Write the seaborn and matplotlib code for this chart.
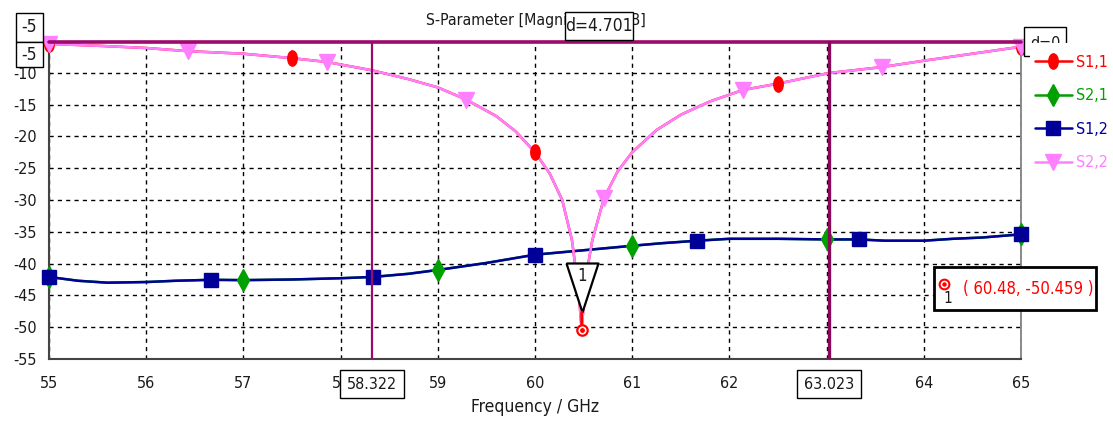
import numpy as np
import pandas as pd
import matplotlib
matplotlib.use("Agg")
import matplotlib.pyplot as plt
from matplotlib.lines import Line2D
from matplotlib.patches import Rectangle
from matplotlib.path import Path
import seaborn as sns

# ---- data -----------------------------------------------------------------
# reflection traces (S1,1 and S2,2 lie on top of each other)
freq_refl = [55.0, 55.5, 56.0, 56.43, 57.0, 57.5, 57.86, 58.32, 58.7, 59.0,
             59.29, 59.6, 59.8, 60.0, 60.15, 60.28, 60.38, 60.41, 60.45, 60.48,
             60.51, 60.55, 60.59, 60.71, 60.85, 61.0, 61.25, 61.5, 61.8, 62.14,
             62.5, 63.02, 63.57, 64.0, 64.5, 65.0]
s11_db = [-5.45, -5.75, -6.1, -6.6, -7.0, -7.7, -8.3, -9.6, -11.0, -12.3,
          -14.2, -16.8, -19.2, -22.5, -25.8, -30.0, -36.3, -39.8, -44.5, -50.459,
          -44.5, -39.8, -36.3, -29.7, -25.5, -22.5, -19.0, -16.6, -14.5, -12.7,
          -11.7, -10.05, -9.1, -8.1, -7.0, -5.9]
s22_db = list(s11_db)

# transmission traces (S2,1 and S1,2 lie on top of each other)
freq_trans = [55.0, 55.3, 55.6, 56.0, 56.3, 56.67, 57.0, 57.5, 58.0, 58.33,
              58.7, 59.0, 59.5, 60.0, 60.5, 61.0, 61.3, 61.67, 62.0, 62.5,
              63.0, 63.33, 63.6, 64.0, 64.3, 64.6, 65.0]
s12_db = [-42.1, -42.7, -43.0, -42.9, -42.7, -42.55, -42.6, -42.5, -42.3, -42.1,
          -41.6, -41.0, -39.9, -38.6, -37.9, -37.2, -36.8, -36.4, -36.1, -36.1,
          -36.2, -36.2, -36.4, -36.4, -36.1, -35.9, -35.4]
s21_db = list(s12_db)

# frequencies that carry a symbol on each trace
s11_sym = [55.0, 57.5, 60.0, 62.5, 65.0]
s22_sym = [55.0, 56.43, 57.86, 59.29, 60.71, 62.14, 63.57, 65.0]
s21_sym = [55.0, 57.0, 59.0, 61.0, 63.0, 65.0]
s12_sym = [55.0, 56.67, 58.33, 60.0, 61.67, 63.33, 65.0]

series_names = ["S1,1", "S2,1", "S1,2", "S2,2"]

# markers placed on the plot
marker1 = (60.48, -50.459)
vmarker_a = 58.322
vmarker_b = 63.023
hmarker_label = "-5"

x_ticks = [55, 56, 57, 58, 59, 60, 61, 62, 63, 64, 65]
x_ticklabels = ["55", "56", "57", "58", "59", "60", "61", "62", "", "64", "65"]
y_ticks = [-55, -50, -45, -40, -35, -30, -25, -20, -15, -10, -5]
y_ticklabels = ["-55", "-50", "-45", "-40", "-35", "-30", "-25", "-20",
                "-15", "-10", ""]

# ---- style ----------------------------------------------------------------
sns.set_style("white")
plt.rcParams["font.family"] = ["DejaVu Sans"]
plt.rcParams["font.stretch"] = "condensed"
plt.rcParams["axes.unicode_minus"] = False

C_RED = "#ff0000"
C_GREEN = "#00a000"
C_NAVY = "#000099"
C_PINK = "#ff80ff"
C_MARK = "#9c0a6c"
C_TXT = "#1a1a1a"

W, H = 1113, 423
fig = plt.figure(figsize=(W / 100, H / 100), dpi=100)
ax = fig.add_axes([49 / W, 1 - 359 / H, 972 / W, 318 / H])


def fx(px):
    return px / W


def fy(py):
    return 1 - py / H


# tall ellipse used for the S1,1 symbol
_circ = Path.unit_circle()
oval = Path(_circ.vertices * np.array([0.62, 1.0]), _circ.codes)

refl = pd.DataFrame({"freq": freq_refl, "S1,1": s11_db, "S2,2": s22_db})
trans = pd.DataFrame({"freq": freq_trans, "S2,1": s21_db, "S1,2": s12_db})

styles = {
    "S1,1": dict(df=refl, color=C_RED, marker=oval, ms=11, sym=s11_sym, z=4),
    "S2,1": dict(df=trans, color=C_GREEN, marker="d", ms=11, sym=s21_sym, z=2),
    "S1,2": dict(df=trans, color=C_NAVY, marker="s", ms=9.5, sym=s12_sym, z=3),
    "S2,2": dict(df=refl, color=C_PINK, marker="v", ms=12, sym=s22_sym, z=5),
}

# traces
for name in ["S2,1", "S1,2", "S1,1", "S2,2"]:
    st = styles[name]
    sns.lineplot(data=st["df"], x="freq", y=name, color=st["color"], lw=1.8,
                 ax=ax, zorder=st["z"], legend=False)

# symbols on top of all traces
for i, name in enumerate(["S2,1", "S1,2", "S1,1", "S2,2"]):
    st = styles[name]
    df = st["df"]
    sub = df[np.isin(df["freq"], st["sym"])]
    ax.plot(sub["freq"], sub[name], ls="none", marker=st["marker"],
            ms=st["ms"], color=st["color"], mec=st["color"], zorder=10 + i,
            clip_on=False)

# axes frame, grid and ticks
ax.set_xlim(55, 65)
ax.set_ylim(-55, -5)
ax.set_xticks(x_ticks, x_ticklabels)
ax.set_yticks(y_ticks, y_ticklabels)
ax.grid(True, color="black", linestyle=(0, (3, 3)), lw=1)
ax.tick_params(axis="both", direction="out", length=4, width=1,
               color="#333333", labelsize=11.5, labelcolor=C_TXT)
ax.tick_params(axis="x", pad=8)
ax.tick_params(axis="y", pad=5)
ax.set_xlabel("Frequency / GHz", fontsize=12.5, color=C_TXT, labelpad=5)
ax.set_ylabel("")
for side in ["left", "bottom"]:
    ax.spines[side].set_color("#444444")
    ax.spines[side].set_linewidth(1.5)
ax.spines["right"].set_color("#777777")
ax.spines["right"].set_linewidth(1.2)
ax.spines["top"].set_visible(False)

# horizontal and vertical markers
ax.axhline(-5.15, color=C_MARK, lw=2.6, zorder=20, clip_on=False)
ax.axvline(vmarker_a, color=C_MARK, lw=1.6, zorder=20)
ax.axvline(vmarker_b, color="#860a58", lw=2.4, zorder=20)

# marker 1 : triangle flag, stem and target symbol
flag = [(-16, 67), (16, 67), (0, 18), (-16, 67)]
ax.plot([marker1[0]], [marker1[1]], ls="none", marker=flag, ms=134 * 0.72,
        mfc="white", mec="black", mew=1.6, zorder=30, clip_on=False)
ax.annotate("1", xy=marker1, xytext=(0, 54 * 0.72), textcoords="offset points",
            ha="center", va="center", fontsize=12, color=C_TXT, zorder=31)
ax.annotate("", xy=marker1, xytext=(0, 18 * 0.72), textcoords="offset points",
            arrowprops=dict(arrowstyle="-", color=C_RED, lw=2,
                            shrinkA=0, shrinkB=4), zorder=31)
ax.plot([marker1[0]], [marker1[1]], ls="none", marker="o", ms=7.5,
        mfc="white", mec=C_RED, mew=1.6, zorder=32, clip_on=False)
ax.plot([marker1[0]], [marker1[1]], ls="none", marker="o", ms=2.5,
        color=C_RED, zorder=33, clip_on=False)


def boxed(x0, y0, x1, y1, text, color=C_TXT, size=11, lw=1.0,
          tx=None, ty=None, ha="center"):
    fig.patches.append(Rectangle((fx(x0), fy(y1)), fx(x1 - x0), (y1 - y0) / H,
                                 transform=fig.transFigure, fc="white",
                                 ec="black", lw=lw, zorder=40))
    if tx is None:
        tx = (x0 + x1) / 2
    if ty is None:
        ty = (y0 + y1) / 2
    fig.text(fx(tx), fy(ty), text, ha=ha, va="center", fontsize=size,
             color=color, zorder=41)


# title (partly hidden by the delta label)
fig.text(fx(426), fy(21), "S-Parameter [Magnitude in dB]", ha="left",
         va="center", fontsize=11.3, color=C_TXT)
boxed(565, 12, 633, 40, f"d={vmarker_b - vmarker_a:.3f}", size=12.5)

# horizontal marker labels on the y axis
boxed(16, 13, 43, 42, hmarker_label, size=12.5)
boxed(16, 42, 43, 67, hmarker_label, size=12.5)

# vertical marker labels on the x axis
boxed(340, 370, 404, 398, f"{vmarker_a:.3f}", size=11.5)
boxed(797, 370, 861, 398, f"{vmarker_b:.3f}", size=11.5)

# delta label of the horizontal markers, partly under the legend
boxed(1024, 27, 1066, 56, "d=0", size=11.5, ty=43)
fig.patches.append(Rectangle((fx(1030), fy(180)), fx(83), 137 / H,
                             transform=fig.transFigure, fc="white", ec="none",
                             zorder=42))

# marker 1 readout
boxed(934, 267, 1096, 310, f"( {marker1[0]:g}, {marker1[1]:g} )",
      color=C_RED, size=12, lw=2.0, tx=1028)
fig.lines.append(Line2D([fx(944)], [fy(284)], transform=fig.transFigure,
                        ls="none", marker="o", ms=7, mfc="white", mec=C_RED,
                        mew=1.5, zorder=43))
fig.lines.append(Line2D([fx(944)], [fy(284)], transform=fig.transFigure,
                        ls="none", marker="o", ms=2.2, color=C_RED, zorder=44))
fig.text(fx(948), fy(298), "1", ha="center", va="center", fontsize=11,
         color=C_TXT, zorder=44)

# legend
handles = [Line2D([], [], color=styles[n]["color"], lw=1.8,
                  marker=styles[n]["marker"], ms=styles[n]["ms"],
                  mec=styles[n]["color"]) for n in series_names]
leg = fig.legend(handles, series_names, loc="upper left",
                 bbox_to_anchor=(fx(1035), fy(55)), frameon=False,
                 fontsize=11.5, handlelength=2.3, handletextpad=0.25,
                 labelspacing=1.15, borderaxespad=0, borderpad=0)
for txt, n in zip(leg.get_texts(), series_names):
    txt.set_color(styles[n]["color"])
leg.set_zorder(50)

fig.savefig("out.png", dpi=100)
